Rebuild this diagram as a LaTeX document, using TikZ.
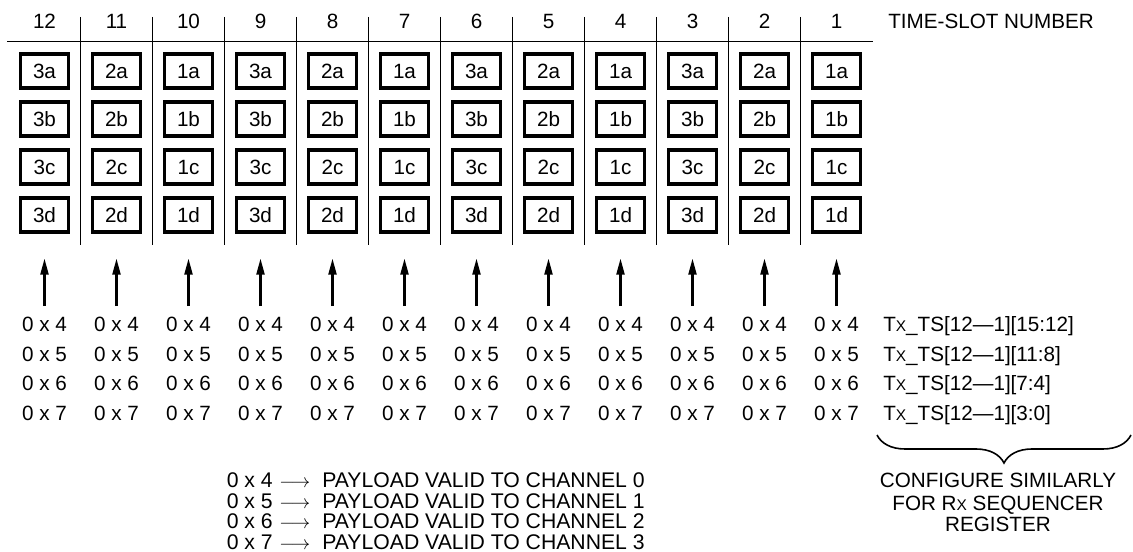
\documentclass[tikz,border=0pt]{standalone}
\usepackage{fontspec}
\setmainfont{Liberation Sans}
\usetikzlibrary{arrows.meta,decorations.pathreplacing}
\newcommand{\smallX}{{\fontsize{11.6pt}{12pt}\selectfont X}}
\newcommand{\legarrow}{\smash{\fontsize{13.4pt}{14pt}\selectfont$\longrightarrow$}}
\begin{document}
\begin{tikzpicture}[x=0.75pt,y=-0.75pt,
  every node/.style={font=\fontsize{15.5pt}{16.5pt}\selectfont, inner sep=0pt},
  slotbox/.style={draw, line width=2.4pt, minimum width=35.8pt, minimum height=25.4pt},
  sepline/.style={line width=0.8pt},
  rule/.style={line width=1pt},
  feed/.style={line width=1.6pt, -{Triangle[length=12pt,width=6pt]}},
  lbl/.style={anchor=base},
  lblw/.style={anchor=base west},
  legend/.style={anchor=base west, font=\fontsize{15.9pt}{16.5pt}\selectfont},
  bracestyle/.style={decorate, decoration={brace, mirror, amplitude=21pt}, line width=1.2pt},
]
\useasboundingbox (0,0) rectangle (1133,552);

% header rule and separators
\draw[rule] (7,41.7) -- (872.5,41.7);
\foreach \k in {0,...,10} {
  \draw[sepline] (80.5+72*\k,17) -- (80.5+72*\k,245);
}

\node[lblw] (tsn) at (888,28.4) {TIME-SLOT NUMBER};

\foreach \k in {0,...,11} {
  \pgfmathtruncatemacro\n{12-\k}
  \pgfmathtruncatemacro\g{mod(11-\k,3)+1}
  \node[lbl] (h\k) at (44.5+72*\k,28.4) {\n};
  \foreach \r [count=\ri from 0] in {a,b,c,d} {
    \node[slotbox] (b\k\r) at (44.5+72*\k,71+48*\ri) {\g\r};
  }
  \foreach \v [count=\vi from 0] in {4,5,6,7} {
    \node[lbl] (v\k\v) at (44.5+72*\k,332+29.5*\vi) {0 x \v};
  }
  \draw[feed, shorten <=8.4pt, shorten >=18.8pt] (v\k4.north) -- (b\k d.south);
}

% register labels
\node[lblw] (t1) at (883,332) {T\smallX\_TS[12—1][15:12]};
\node[lblw] (t2) at (883,361.5) {T\smallX\_TS[12—1][11:8]};
\node[lblw] (t3) at (883,391) {T\smallX\_TS[12—1][7:4]};
\node[lblw] (t4) at (883,420.5) {T\smallX\_TS[12—1][3:0]};

% brace
\coordinate (brL) at (877,435);
\coordinate (brR) at (1131,435);
\draw[bracestyle] (brL) -- (brR);

\node[lbl] (cf1) at (998,488) {CONFIGURE SIMILARLY};
\node[lbl] (cf2) at (998,510.5) {FOR R\smallX\ SEQUENCER};
\node[lbl] (cf3) at (998,532) {REGISTER};

% legend
\foreach \v [count=\vi from 0] in {4,5,6,7} {
  \pgfmathtruncatemacro\ch{\vi}
  \node[legend] (lg\v) at (226.5,487.5+20.6*\vi) {0 x \v\hspace{5pt}\legarrow\hspace{9pt}PAYLOAD VALID TO CHANNEL \ch};
}
\end{tikzpicture}
\end{document}
